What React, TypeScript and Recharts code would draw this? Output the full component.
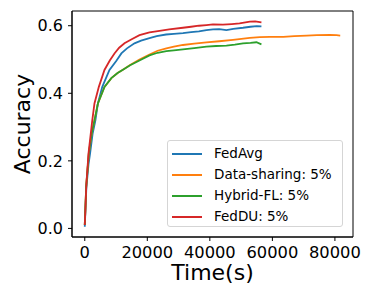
import React from 'react';
import { LineChart, Line, XAxis, YAxis, ReferenceArea, Legend, Label } from 'recharts';

// values
const fedAvgTime = [0, 500, 1200, 1700, 2500, 3400, 4200, 5600, 7900, 10000, 11700, 13500, 15900, 18000, 20700, 23000, 26000, 28500, 31400, 34000, 36500, 38900, 41000, 43000, 45300, 47500, 50600, 53000, 55000, 56500];
const fedAvgAcc = [0.005, 0.12, 0.19, 0.222, 0.28, 0.32, 0.37, 0.419, 0.469, 0.495, 0.518, 0.533, 0.548, 0.556, 0.563, 0.569, 0.574, 0.576, 0.578, 0.581, 0.583, 0.587, 0.589, 0.59, 0.587, 0.591, 0.594, 0.597, 0.599, 0.598];

const sharingTime = [0, 450, 1300, 2200, 3100, 4200, 6300, 8500, 10500, 12200, 14500, 17500, 20700, 23300, 26100, 28500, 31400, 35000, 38900, 43000, 47400, 52800, 56000, 59200, 63500, 67000, 71000, 74200, 78400, 80500, 81700];
const sharingAcc = [0.01, 0.123, 0.222, 0.28, 0.32, 0.37, 0.419, 0.445, 0.46, 0.47, 0.484, 0.5, 0.515, 0.526, 0.533, 0.538, 0.543, 0.547, 0.551, 0.554, 0.558, 0.564, 0.566, 0.567, 0.567, 0.569, 0.571, 0.572, 0.573, 0.572, 0.571];

const hybridTime = [0, 450, 1300, 2200, 3100, 4200, 6300, 8500, 10500, 12200, 14500, 17500, 20700, 23300, 26100, 28500, 31400, 35000, 38900, 42000, 45300, 48000, 50600, 53000, 54900, 56500];
const hybridAcc = [0.01, 0.123, 0.222, 0.28, 0.32, 0.37, 0.419, 0.445, 0.46, 0.47, 0.483, 0.497, 0.512, 0.52, 0.525, 0.527, 0.53, 0.534, 0.538, 0.54, 0.541, 0.544, 0.548, 0.549, 0.551, 0.545];

const fedDUTime = [0, 500, 1200, 2400, 3100, 4500, 6300, 8000, 9500, 11000, 12700, 15000, 17500, 20700, 23900, 27000, 31400, 34000, 36500, 38900, 41000, 44200, 47000, 49500, 52800, 54500, 56500];
const fedDUAcc = [0.01, 0.13, 0.222, 0.32, 0.37, 0.419, 0.469, 0.497, 0.518, 0.535, 0.548, 0.56, 0.572, 0.58, 0.585, 0.589, 0.594, 0.597, 0.6, 0.602, 0.604, 0.603, 0.605, 0.607, 0.612, 0.613, 0.61];

const xTicks = [0, 20000, 40000, 60000, 80000];
const yTicks = [0, 0.2, 0.4, 0.6];
const xDomain = [-4085, 85785];
const yDomain = [-0.0254, 0.6436];

const toPoints = (t: number[], a: number[]) => t.map((time, i) => ({ time, acc: a[i] }));

const series = [
  { name: 'FedAvg', color: '#1f77b4', data: toPoints(fedAvgTime, fedAvgAcc) },
  { name: 'Data-sharing: 5%', color: '#ff7f0e', data: toPoints(sharingTime, sharingAcc) },
  { name: 'Hybrid-FL: 5%', color: '#2ca02c', data: toPoints(hybridTime, hybridAcc) },
  { name: 'FedDU: 5%', color: '#d62728', data: toPoints(fedDUTime, fedDUAcc) },
];

const font = 'DejaVu Sans';

function LegendBox() {
  return (
    <div
      style={{
        width: 176,
        height: 87,
        border: '1px solid #d5d5d5',
        borderRadius: 3,
        background: 'rgba(255,255,255,0.8)',
        boxSizing: 'border-box',
        paddingTop: 2,
      }}
    >
      {series.map((s) => (
        <div key={s.name} style={{ display: 'flex', alignItems: 'center', height: 21.1 }}>
          <div style={{ width: 30, height: 2, background: s.color, marginLeft: 4, marginRight: 12 }} />
          <span style={{ fontFamily: font, fontSize: 13.5, color: '#000', lineHeight: '21px' }}>{s.name}</span>
        </div>
      ))}
    </div>
  );
}

export default function App() {
  return (
    <div style={{ position: 'absolute', left: 0, top: 0, background: '#fff' }}>
      <LineChart width={374} height={299} margin={{ top: 11, right: 21, bottom: 0, left: 0 }}>
        <XAxis
          type="number"
          dataKey="time"
          domain={xDomain}
          ticks={xTicks}
          allowDataOverflow
          height={62}
          tickSize={4}
          tickMargin={5}
          stroke="#000"
          tick={{ fill: '#000', fontSize: 16.3, fontFamily: font }}
        >
          <Label
            content={({ viewBox }: any) => (
              <text
                x={viewBox.x + viewBox.width / 2}
                y={280}
                textAnchor="middle"
                fontFamily={font}
                fontSize={22}
                fill="#000"
              >
                Time(s)
              </text>
            )}
          />
        </XAxis>
        <YAxis
          type="number"
          dataKey="acc"
          domain={yDomain}
          ticks={yTicks}
          allowDataOverflow
          width={72}
          tickSize={4}
          tickMargin={5}
          stroke="#000"
          tickFormatter={(v: number) => v.toFixed(1)}
          tick={{ fill: '#000', fontSize: 16, fontFamily: font }}
        >
          <Label
            content={({ viewBox }: any) => {
              const cy = viewBox.y + viewBox.height / 2;
              return (
                <text
                  x={30}
                  y={cy}
                  transform={`rotate(-90, 30, ${cy})`}
                  textAnchor="middle"
                  fontFamily={font}
                  fontSize={22}
                  fill="#000"
                >
                  Accuracy
                </text>
              );
            }}
          />
        </YAxis>
        <ReferenceArea
          x1={xDomain[0]}
          x2={xDomain[1]}
          y1={yDomain[0]}
          y2={yDomain[1]}
          fill="none"
          stroke="#000"
          strokeWidth={1}
          ifOverflow="extendDomain"
        />
        {series.map((s) => (
          <Line
            key={s.name}
            data={s.data}
            dataKey="acc"
            name={s.name}
            type="linear"
            stroke={s.color}
            strokeWidth={1.8}
            dot={false}
            isAnimationActive={false}
          />
        ))}
        <Legend
          layout="vertical"
          align="center"
          verticalAlign="middle"
          wrapperStyle={{ left: 167, top: 140, width: 176 }}
          content={() => <LegendBox />}
        />
      </LineChart>
    </div>
  );
}
